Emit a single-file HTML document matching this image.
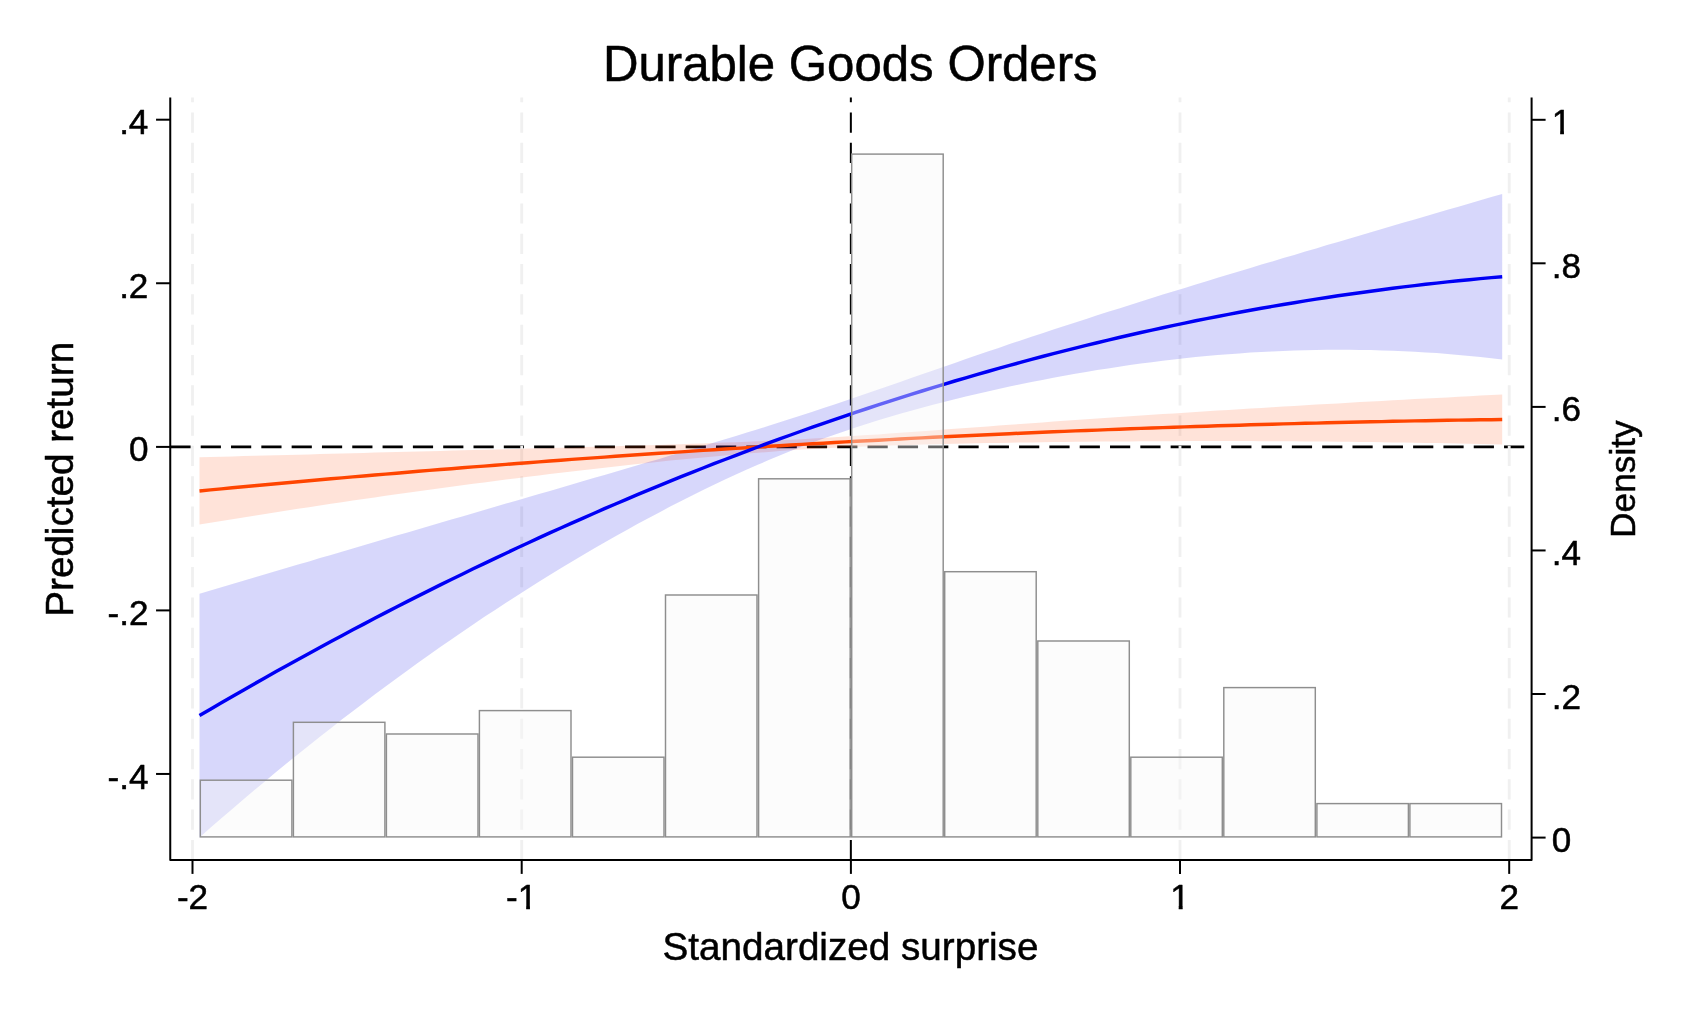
<!DOCTYPE html>
<html><head><meta charset="utf-8"><title>Durable Goods Orders</title>
<style>html,body{margin:0;padding:0;background:#fff}svg{display:block;will-change:transform}text{font-family:"Liberation Sans",Arial,Helvetica,sans-serif;fill:#000;stroke:#000;stroke-width:.5px;stroke-linejoin:round}</style></head><body>
<svg width="1686" height="1012" viewBox="0 0 1686 1012">
<rect width="1686" height="1012" fill="#fff"/>
<line x1="170.4" y1="446.85" x2="1531.6" y2="446.85" stroke="#000" stroke-width="2.9" stroke-dasharray="20.2 10.11"/>
<line x1="850.85" y1="860.1" x2="850.85" y2="97.4" stroke="#000" stroke-width="2" stroke-dasharray="20.2 10.11"/>
<line x1="192.5" y1="860.1" x2="192.5" y2="97.4" stroke="#f0f0f0" stroke-width="2.85" stroke-dasharray="20.2 10.11"/>
<line x1="521.7" y1="860.1" x2="521.7" y2="97.4" stroke="#f0f0f0" stroke-width="2.85" stroke-dasharray="20.2 10.11"/>
<line x1="1180.0" y1="860.1" x2="1180.0" y2="97.4" stroke="#f0f0f0" stroke-width="2.85" stroke-dasharray="20.2 10.11"/>
<line x1="1509.2" y1="860.1" x2="1509.2" y2="97.4" stroke="#f0f0f0" stroke-width="2.85" stroke-dasharray="20.2 10.11"/>
<path d="M199.5,457.3 L210.4,457.0 L221.4,456.7 L232.3,456.4 L243.3,456.1 L254.2,455.8 L265.2,455.5 L276.1,455.2 L287.1,454.9 L298.0,454.7 L309.0,454.4 L319.9,454.1 L330.9,453.8 L341.8,453.5 L352.8,453.2 L363.7,452.9 L374.7,452.6 L385.6,452.3 L396.5,452.0 L407.5,451.8 L418.4,451.5 L429.4,451.2 L440.3,450.9 L451.3,450.6 L462.2,450.3 L473.2,450.0 L484.1,449.7 L495.1,449.4 L506.0,449.2 L517.0,448.9 L527.9,448.6 L538.9,448.3 L549.8,448.0 L560.8,447.7 L571.7,447.4 L582.6,447.1 L593.6,446.8 L604.5,446.5 L615.5,446.2 L626.4,445.8 L637.4,445.5 L648.3,445.2 L659.3,444.9 L670.2,444.5 L681.2,444.2 L692.1,443.8 L703.1,443.4 L714.0,443.1 L725.0,442.6 L735.9,442.2 L746.9,441.8 L757.8,441.3 L768.7,440.8 L779.7,440.3 L790.6,439.7 L801.6,439.2 L812.5,438.6 L823.5,437.9 L834.4,437.3 L845.4,436.6 L856.3,435.8 L867.3,435.1 L878.2,434.4 L889.2,433.6 L900.1,432.8 L911.1,432.0 L922.0,431.2 L933.0,430.4 L943.9,429.6 L954.8,428.8 L965.8,428.0 L976.7,427.2 L987.7,426.4 L998.6,425.6 L1009.6,424.8 L1020.5,424.0 L1031.5,423.2 L1042.4,422.4 L1053.4,421.6 L1064.3,420.8 L1075.3,420.0 L1086.2,419.3 L1097.2,418.5 L1108.1,417.8 L1119.1,417.0 L1130.0,416.3 L1140.9,415.5 L1151.9,414.8 L1162.8,414.1 L1173.8,413.4 L1184.7,412.7 L1195.7,412.0 L1206.6,411.3 L1217.6,410.6 L1228.5,409.9 L1239.5,409.2 L1250.4,408.5 L1261.4,407.9 L1272.3,407.2 L1283.3,406.6 L1294.2,405.9 L1305.2,405.3 L1316.1,404.6 L1327.0,404.0 L1338.0,403.4 L1348.9,402.7 L1359.9,402.1 L1370.8,401.5 L1381.8,400.9 L1392.7,400.3 L1403.7,399.7 L1414.6,399.1 L1425.6,398.5 L1436.5,397.9 L1447.5,397.4 L1458.4,396.8 L1469.4,396.2 L1480.3,395.6 L1491.3,395.1 L1502.2,394.5 L1502.2,444.5 L1491.3,444.3 L1480.3,444.0 L1469.4,443.8 L1458.4,443.5 L1447.5,443.3 L1436.5,443.1 L1425.6,442.9 L1414.6,442.7 L1403.7,442.5 L1392.7,442.4 L1381.8,442.2 L1370.8,442.1 L1359.9,441.9 L1348.9,441.8 L1338.0,441.7 L1327.0,441.6 L1316.1,441.5 L1305.2,441.4 L1294.2,441.3 L1283.3,441.3 L1272.3,441.2 L1261.4,441.2 L1250.4,441.1 L1239.5,441.1 L1228.5,441.1 L1217.6,441.1 L1206.6,441.1 L1195.7,441.1 L1184.7,441.1 L1173.8,441.2 L1162.8,441.2 L1151.9,441.2 L1140.9,441.3 L1130.0,441.4 L1119.1,441.4 L1108.1,441.5 L1097.2,441.6 L1086.2,441.7 L1075.3,441.8 L1064.3,442.0 L1053.4,442.1 L1042.4,442.2 L1031.5,442.4 L1020.5,442.5 L1009.6,442.7 L998.6,442.9 L987.7,443.1 L976.7,443.3 L965.8,443.5 L954.8,443.8 L943.9,444.0 L933.0,444.3 L922.0,444.6 L911.1,444.9 L900.1,445.2 L889.2,445.6 L878.2,446.0 L867.3,446.4 L856.3,446.8 L845.4,447.3 L834.4,447.8 L823.5,448.4 L812.5,449.0 L801.6,449.6 L790.6,450.3 L779.7,451.1 L768.7,451.9 L757.8,452.7 L746.9,453.6 L735.9,454.5 L725.0,455.4 L714.0,456.4 L703.1,457.4 L692.1,458.5 L681.2,459.5 L670.2,460.6 L659.3,461.8 L648.3,462.9 L637.4,464.1 L626.4,465.3 L615.5,466.5 L604.5,467.7 L593.6,468.9 L582.6,470.2 L571.7,471.5 L560.8,472.8 L549.8,474.1 L538.9,475.4 L527.9,476.8 L517.0,478.2 L506.0,479.5 L495.1,481.0 L484.1,482.4 L473.2,483.8 L462.2,485.3 L451.3,486.7 L440.3,488.2 L429.4,489.7 L418.4,491.2 L407.5,492.7 L396.5,494.3 L385.6,495.8 L374.7,497.4 L363.7,499.0 L352.8,500.6 L341.8,502.2 L330.9,503.8 L319.9,505.5 L309.0,507.2 L298.0,508.8 L287.1,510.5 L276.1,512.2 L265.2,514.0 L254.2,515.7 L243.3,517.5 L232.3,519.2 L221.4,521.0 L210.4,522.8 L199.5,524.6Z" fill="#ff4500" fill-opacity="0.15"/>
<path d="M199.5,593.7 L210.4,590.5 L221.4,587.2 L232.3,584.0 L243.3,580.8 L254.2,577.5 L265.2,574.3 L276.1,571.1 L287.1,567.8 L298.0,564.6 L309.0,561.4 L319.9,558.1 L330.9,554.9 L341.8,551.7 L352.8,548.5 L363.7,545.2 L374.7,542.0 L385.6,538.8 L396.5,535.6 L407.5,532.4 L418.4,529.2 L429.4,526.0 L440.3,522.8 L451.3,519.6 L462.2,516.4 L473.2,513.2 L484.1,510.0 L495.1,506.8 L506.0,503.6 L517.0,500.4 L527.9,497.2 L538.9,494.0 L549.8,490.9 L560.8,487.7 L571.7,484.5 L582.6,481.3 L593.6,478.1 L604.5,474.9 L615.5,471.7 L626.4,468.5 L637.4,465.3 L648.3,462.1 L659.3,458.9 L670.2,455.6 L681.2,452.4 L692.1,449.1 L703.1,445.9 L714.0,442.6 L725.0,439.3 L735.9,435.9 L746.9,432.6 L757.8,429.2 L768.7,425.8 L779.7,422.3 L790.6,418.8 L801.6,415.3 L812.5,411.7 L823.5,408.1 L834.4,404.4 L845.4,400.7 L856.3,397.0 L867.3,393.3 L878.2,389.5 L889.2,385.7 L900.1,381.9 L911.1,378.1 L922.0,374.3 L933.0,370.5 L943.9,366.7 L954.8,362.9 L965.8,359.1 L976.7,355.3 L987.7,351.6 L998.6,347.9 L1009.6,344.1 L1020.5,340.5 L1031.5,336.8 L1042.4,333.2 L1053.4,329.6 L1064.3,326.0 L1075.3,322.4 L1086.2,318.9 L1097.2,315.3 L1108.1,311.8 L1119.1,308.4 L1130.0,304.9 L1140.9,301.5 L1151.9,298.0 L1162.8,294.6 L1173.8,291.2 L1184.7,287.9 L1195.7,284.5 L1206.6,281.2 L1217.6,277.8 L1228.5,274.5 L1239.5,271.2 L1250.4,267.9 L1261.4,264.6 L1272.3,261.4 L1283.3,258.1 L1294.2,254.9 L1305.2,251.6 L1316.1,248.4 L1327.0,245.1 L1338.0,241.9 L1348.9,238.7 L1359.9,235.4 L1370.8,232.2 L1381.8,229.0 L1392.7,225.8 L1403.7,222.6 L1414.6,219.4 L1425.6,216.2 L1436.5,213.0 L1447.5,209.8 L1458.4,206.7 L1469.4,203.5 L1480.3,200.3 L1491.3,197.1 L1502.2,193.9 L1502.2,359.5 L1491.3,358.2 L1480.3,357.0 L1469.4,355.9 L1458.4,354.9 L1447.5,354.0 L1436.5,353.1 L1425.6,352.4 L1414.6,351.8 L1403.7,351.2 L1392.7,350.7 L1381.8,350.4 L1370.8,350.1 L1359.9,349.9 L1348.9,349.8 L1338.0,349.7 L1327.0,349.8 L1316.1,349.9 L1305.2,350.2 L1294.2,350.5 L1283.3,350.9 L1272.3,351.4 L1261.4,352.0 L1250.4,352.6 L1239.5,353.4 L1228.5,354.2 L1217.6,355.1 L1206.6,356.1 L1195.7,357.1 L1184.7,358.3 L1173.8,359.5 L1162.8,360.8 L1151.9,362.2 L1140.9,363.6 L1130.0,365.1 L1119.1,366.7 L1108.1,368.4 L1097.2,370.1 L1086.2,371.9 L1075.3,373.8 L1064.3,375.8 L1053.4,377.8 L1042.4,379.9 L1031.5,382.1 L1020.5,384.3 L1009.6,386.6 L998.6,389.0 L987.7,391.4 L976.7,393.9 L965.8,396.5 L954.8,399.2 L943.9,401.9 L933.0,404.8 L922.0,407.7 L911.1,410.7 L900.1,413.8 L889.2,417.0 L878.2,420.3 L867.3,423.7 L856.3,427.3 L845.4,430.9 L834.4,434.7 L823.5,438.6 L812.5,442.6 L801.6,446.8 L790.6,451.1 L779.7,455.5 L768.7,460.1 L757.8,464.8 L746.9,469.6 L735.9,474.6 L725.0,479.6 L714.0,484.8 L703.1,490.1 L692.1,495.5 L681.2,501.0 L670.2,506.6 L659.3,512.4 L648.3,518.2 L637.4,524.1 L626.4,530.2 L615.5,536.3 L604.5,542.5 L593.6,548.8 L582.6,555.2 L571.7,561.7 L560.8,568.3 L549.8,575.0 L538.9,581.8 L527.9,588.7 L517.0,595.7 L506.0,602.7 L495.1,609.9 L484.1,617.1 L473.2,624.5 L462.2,631.9 L451.3,639.4 L440.3,647.0 L429.4,654.8 L418.4,662.5 L407.5,670.4 L396.5,678.4 L385.6,686.5 L374.7,694.6 L363.7,702.9 L352.8,711.2 L341.8,719.6 L330.9,728.2 L319.9,736.8 L309.0,745.5 L298.0,754.2 L287.1,763.1 L276.1,772.1 L265.2,781.2 L254.2,790.3 L243.3,799.6 L232.3,808.9 L221.4,818.3 L210.4,827.8 L199.5,837.4Z" fill="#0000e6" fill-opacity="0.157"/>
<path d="M199.5,491.0 L210.4,489.9 L221.4,488.9 L232.3,487.8 L243.3,486.8 L254.2,485.8 L265.2,484.7 L276.1,483.7 L287.1,482.7 L298.0,481.7 L309.0,480.8 L319.9,479.8 L330.9,478.8 L341.8,477.9 L352.8,476.9 L363.7,476.0 L374.7,475.0 L385.6,474.1 L396.5,473.2 L407.5,472.2 L418.4,471.3 L429.4,470.4 L440.3,469.5 L451.3,468.7 L462.2,467.8 L473.2,466.9 L484.1,466.1 L495.1,465.2 L506.0,464.4 L517.0,463.5 L527.9,462.7 L538.9,461.9 L549.8,461.0 L560.8,460.2 L571.7,459.4 L582.6,458.6 L593.6,457.9 L604.5,457.1 L615.5,456.3 L626.4,455.5 L637.4,454.8 L648.3,454.0 L659.3,453.3 L670.2,452.6 L681.2,451.9 L692.1,451.1 L703.1,450.4 L714.0,449.7 L725.0,449.0 L735.9,448.4 L746.9,447.7 L757.8,447.0 L768.7,446.3 L779.7,445.7 L790.6,445.0 L801.6,444.4 L812.5,443.8 L823.5,443.2 L834.4,442.5 L845.4,441.9 L856.3,441.3 L867.3,440.7 L878.2,440.2 L889.2,439.6 L900.1,439.0 L911.1,438.4 L922.0,437.9 L933.0,437.3 L943.9,436.8 L954.8,436.3 L965.8,435.7 L976.7,435.2 L987.7,434.7 L998.6,434.2 L1009.6,433.7 L1020.5,433.2 L1031.5,432.8 L1042.4,432.3 L1053.4,431.8 L1064.3,431.4 L1075.3,430.9 L1086.2,430.5 L1097.2,430.1 L1108.1,429.6 L1119.1,429.2 L1130.0,428.8 L1140.9,428.4 L1151.9,428.0 L1162.8,427.6 L1173.8,427.3 L1184.7,426.9 L1195.7,426.5 L1206.6,426.2 L1217.6,425.8 L1228.5,425.5 L1239.5,425.2 L1250.4,424.8 L1261.4,424.5 L1272.3,424.2 L1283.3,423.9 L1294.2,423.6 L1305.2,423.3 L1316.1,423.1 L1327.0,422.8 L1338.0,422.5 L1348.9,422.3 L1359.9,422.0 L1370.8,421.8 L1381.8,421.6 L1392.7,421.3 L1403.7,421.1 L1414.6,420.9 L1425.6,420.7 L1436.5,420.5 L1447.5,420.3 L1458.4,420.1 L1469.4,420.0 L1480.3,419.8 L1491.3,419.7 L1502.2,419.5" fill="none" stroke="#ff4500" stroke-width="3.45"/>
<path d="M199.5,715.6 L210.4,709.2 L221.4,702.8 L232.3,696.4 L243.3,690.2 L254.2,683.9 L265.2,677.7 L276.1,671.6 L287.1,665.5 L298.0,659.4 L309.0,653.4 L319.9,647.4 L330.9,641.5 L341.8,635.7 L352.8,629.8 L363.7,624.1 L374.7,618.3 L385.6,612.6 L396.5,607.0 L407.5,601.4 L418.4,595.9 L429.4,590.4 L440.3,584.9 L451.3,579.5 L462.2,574.2 L473.2,568.8 L484.1,563.6 L495.1,558.4 L506.0,553.2 L517.0,548.0 L527.9,543.0 L538.9,537.9 L549.8,532.9 L560.8,528.0 L571.7,523.1 L582.6,518.3 L593.6,513.5 L604.5,508.7 L615.5,504.0 L626.4,499.3 L637.4,494.7 L648.3,490.1 L659.3,485.6 L670.2,481.1 L681.2,476.7 L692.1,472.3 L703.1,468.0 L714.0,463.7 L725.0,459.5 L735.9,455.3 L746.9,451.1 L757.8,447.0 L768.7,442.9 L779.7,438.9 L790.6,435.0 L801.6,431.0 L812.5,427.2 L823.5,423.3 L834.4,419.6 L845.4,415.8 L856.3,412.1 L867.3,408.5 L878.2,404.9 L889.2,401.3 L900.1,397.8 L911.1,394.4 L922.0,391.0 L933.0,387.6 L943.9,384.3 L954.8,381.0 L965.8,377.8 L976.7,374.6 L987.7,371.5 L998.6,368.4 L1009.6,365.4 L1020.5,362.4 L1031.5,359.4 L1042.4,356.5 L1053.4,353.7 L1064.3,350.9 L1075.3,348.1 L1086.2,345.4 L1097.2,342.7 L1108.1,340.1 L1119.1,337.5 L1130.0,335.0 L1140.9,332.5 L1151.9,330.1 L1162.8,327.7 L1173.8,325.4 L1184.7,323.1 L1195.7,320.8 L1206.6,318.6 L1217.6,316.5 L1228.5,314.4 L1239.5,312.3 L1250.4,310.3 L1261.4,308.3 L1272.3,306.4 L1283.3,304.5 L1294.2,302.7 L1305.2,300.9 L1316.1,299.1 L1327.0,297.5 L1338.0,295.8 L1348.9,294.2 L1359.9,292.7 L1370.8,291.2 L1381.8,289.7 L1392.7,288.3 L1403.7,286.9 L1414.6,285.6 L1425.6,284.3 L1436.5,283.1 L1447.5,281.9 L1458.4,280.8 L1469.4,279.7 L1480.3,278.6 L1491.3,277.6 L1502.2,276.7" fill="none" stroke="#0000f5" stroke-width="3.45"/>
<g fill="#f8f8f8" fill-opacity="0.4" stroke="#8e8e8e" stroke-width="1.45">
<rect x="200.3" y="780.2" width="91.6" height="56.7"/>
<rect x="293.4" y="722.3" width="91.5" height="114.6"/>
<rect x="386.4" y="734.0" width="91.6" height="102.9"/>
<rect x="479.4" y="710.6" width="91.6" height="126.3"/>
<rect x="572.5" y="757.2" width="91.5" height="79.7"/>
<rect x="665.5" y="595.0" width="91.5" height="241.9"/>
<rect x="758.6" y="478.8" width="91.6" height="358.1"/>
<rect x="851.7" y="154.1" width="91.5" height="682.8"/>
<rect x="944.7" y="571.7" width="91.5" height="265.2"/>
<rect x="1037.8" y="641.0" width="91.5" height="195.9"/>
<rect x="1130.8" y="757.2" width="91.5" height="79.7"/>
<rect x="1223.8" y="687.6" width="91.5" height="149.3"/>
<rect x="1316.9" y="803.6" width="91.5" height="33.3"/>
<rect x="1409.9" y="803.6" width="91.6" height="33.3"/>
</g>
<g stroke="#000" stroke-width="2" fill="none">
<path d="M170.25,97.4 V859.95 H1531.6 V97.4" stroke-linejoin="round"/>
<line x1="192.5" y1="859.95" x2="192.5" y2="873.90"/>
<line x1="521.7" y1="859.95" x2="521.7" y2="873.90"/>
<line x1="850.9" y1="859.95" x2="850.9" y2="873.90"/>
<line x1="1180.0" y1="859.95" x2="1180.0" y2="873.90"/>
<line x1="1509.2" y1="859.95" x2="1509.2" y2="873.90"/>
<line x1="170.25" y1="119.7" x2="156.05" y2="119.7"/>
<line x1="170.25" y1="283.25" x2="156.05" y2="283.25"/>
<line x1="170.25" y1="446.9" x2="156.05" y2="446.9"/>
<line x1="170.25" y1="610.4" x2="156.05" y2="610.4"/>
<line x1="170.25" y1="773.95" x2="156.05" y2="773.95"/>
<line x1="1531.6" y1="119.8" x2="1545.6" y2="119.8"/>
<line x1="1531.6" y1="263.3" x2="1545.6" y2="263.3"/>
<line x1="1531.6" y1="406.9" x2="1545.6" y2="406.9"/>
<line x1="1531.6" y1="550.45" x2="1545.6" y2="550.45"/>
<line x1="1531.6" y1="694.0" x2="1545.6" y2="694.0"/>
<line x1="1531.6" y1="837.6" x2="1545.6" y2="837.6"/>
</g>
<g font-size="35.1">
<clipPath id="k1"><rect x="1160" y="870" width="40" height="36.00"/><rect x="1178.71" y="905.50" width="3.93" height="6"/></clipPath>
<clipPath id="k2"><rect x="495" y="870" width="50" height="36.00"/><rect x="526.18" y="905.50" width="3.76" height="6"/></clipPath>
<clipPath id="k3"><rect x="1545" y="95" width="40" height="36.00"/><rect x="1560.18" y="130.50" width="3.76" height="6"/></clipPath>
<text x="192.5" y="908.8" text-anchor="middle">-2</text>
<text x="521.7" y="908.8" text-anchor="middle" clip-path="url(#k2)">-1</text>
<text x="850.9" y="908.8" text-anchor="middle">0</text>
<text x="1180.0" y="908.8" text-anchor="middle" clip-path="url(#k1)">1</text>
<text x="1509.2" y="908.8" text-anchor="middle">2</text>
<text x="148.4" y="133.8" text-anchor="end">.4</text>
<text x="148.4" y="297.8" text-anchor="end">.2</text>
<text x="148.4" y="461.3" text-anchor="end">0</text>
<text x="148.4" y="624.8" text-anchor="end">-.2</text>
<text x="148.4" y="788.8" text-anchor="end">-.4</text>
<text x="1551.8" y="133.8" clip-path="url(#k3)">1</text>
<text x="1551.8" y="277.8">.8</text>
<text x="1551.8" y="421.3">.6</text>
<text x="1551.8" y="564.8">.4</text>
<text x="1551.8" y="708.5">.2</text>
<text x="1551.8" y="852.0">0</text>
</g>
<text x="850.3" y="80.5" font-size="49.2" stroke-width="0.8" text-anchor="middle">Durable Goods Orders</text>
<text x="850.5" y="959.9" font-size="38.65" text-anchor="middle">Standardized surprise</text>
<text transform="translate(72.9,479.3) rotate(-90)" font-size="38.65" text-anchor="middle">Predicted return</text>
<text transform="translate(1634.6,479.1) rotate(-90)" font-size="35.3" text-anchor="middle">Density</text>
</svg></body></html>
